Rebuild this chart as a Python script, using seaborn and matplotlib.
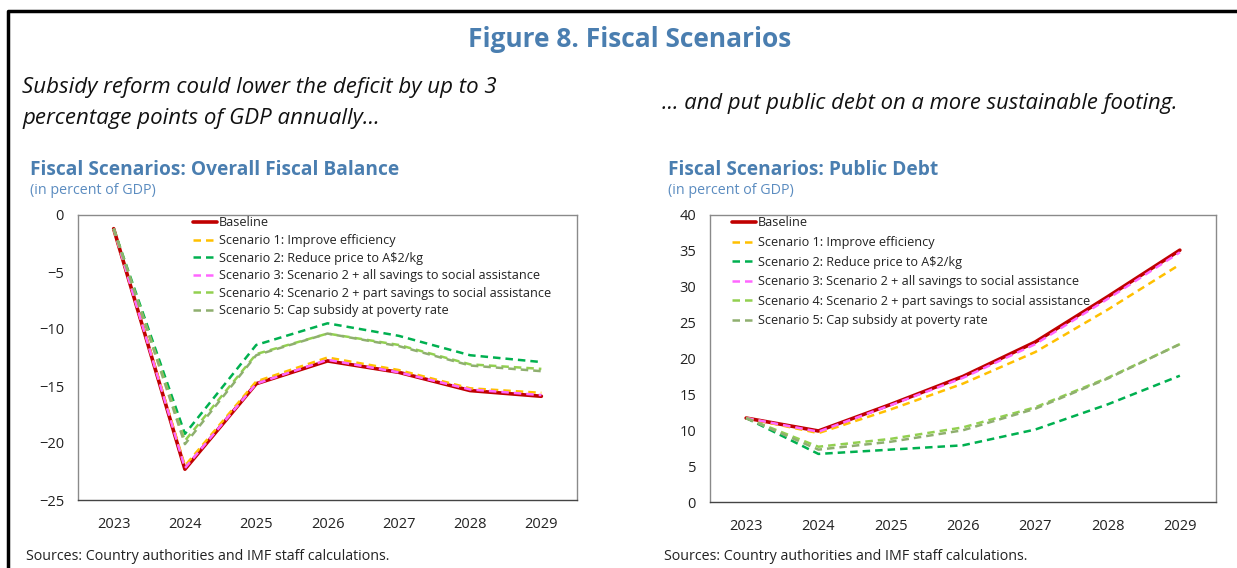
import numpy as np
import pandas as pd
import matplotlib
matplotlib.use("Agg")
import matplotlib.pyplot as plt
import seaborn as sns
from matplotlib.lines import Line2D

# data
years = ["2023", "2024", "2025", "2026", "2027", "2028", "2029"]
scenarios = ["Baseline",
             "Scenario 1: Improve efficiency",
             "Scenario 2: Reduce price to A$2/kg",
             "Scenario 3: Scenario 2 + all savings to social assistance",
             "Scenario 4: Scenario 2 + part savings to social assistance",
             "Scenario 5: Cap subsidy at poverty rate"]

balance_baseline = [-1.2, -22.3, -14.8, -12.8, -13.8, -15.4, -15.9]
balance_s1 = [-1.2, -22.0, -14.6, -12.5, -13.6, -15.2, -15.6]
balance_s2 = [-1.2, -19.2, -11.4, -9.5, -10.6, -12.3, -12.9]
balance_s3 = [-1.2, -22.2, -14.8, -12.7, -13.8, -15.3, -15.8]
balance_s4 = [-1.2, -19.8, -12.2, -10.4, -11.4, -13.1, -13.5]
balance_s5 = [-1.2, -20.1, -12.3, -10.4, -11.5, -13.2, -13.7]

debt_baseline = [11.7, 9.9, 13.6, 17.5, 22.3, 28.6, 35.1]
debt_s1 = [11.7, 9.6, 12.9, 16.5, 20.9, 26.8, 33.1]
debt_s2 = [11.7, 6.7, 7.3, 7.9, 10.1, 13.6, 17.6]
debt_s3 = [11.7, 9.8, 13.5, 17.3, 22.0, 28.3, 34.8]
debt_s4 = [11.7, 7.7, 8.8, 10.4, 13.2, 17.3, 22.0]
debt_s5 = [11.7, 7.3, 8.4, 10.0, 13.0, 17.2, 22.0]

colors = ["#C00000", "#FFC000", "#00B050", "#FF66FF", "#92D050", "#8FAF6F"]
widths = [2.6, 1.8, 1.8, 1.8, 1.8, 1.8]

sns.set_style("white")
plt.rcParams['font.family'] = ['Open Sans', 'DejaVu Sans']

fig = plt.figure(figsize=(12.37, 5.68), dpi=100)

blue = "#4A7EB0"
fig.text(0.509, 0.930, "Figure 8. Fiscal Scenarios", ha="center", va="center",
         fontsize=19, fontweight="bold", color=blue)
fig.text(0.018, 1 - 88 / 568, "Subsidy reform could lower the deficit by up to 3",
         ha="left", va="center", fontsize=16, style="italic", color="#111111")
fig.text(0.018, 1 - 118 / 568, "percentage points of GDP annually...",
         ha="left", va="center", fontsize=16, style="italic", color="#111111")
fig.text(662 / 1237, 1 - 104 / 568, "... and put public debt on a more sustainable footing.",
         ha="left", va="center", fontsize=15.8, style="italic", color="#111111")

# outer frame (top and left edges only)
fig.add_artist(Line2D([8 / 1237, 8 / 1237, 1.0], [0.0, 1 - 11 / 568, 1 - 11 / 568],
                      transform=fig.transFigure, color="black", linewidth=2.5))


def panel(rect, series, title, tx, ylim, yticks, legend_x, lab_spacing):
    ax = fig.add_axes(rect)
    rows = []
    for name, vals in zip(scenarios, series):
        for y, v in zip(years, vals):
            rows.append({"year": y, "value": v, "scenario": name})
    df = pd.DataFrame(rows)
    for i, name in enumerate(scenarios):
        sub = df[df["scenario"] == name]
        sns.lineplot(data=sub, x="year", y="value", ax=ax, color=colors[i],
                     linewidth=widths[i], linestyle="-" if i == 0 else (0, (3, 2)),
                     label=name, sort=False)
    ax.set_xlim(-0.5, 6.5)
    ax.set_ylim(*ylim)
    ax.set_yticks(yticks)
    ax.set_xlabel("")
    ax.set_ylabel("")
    ax.tick_params(axis="y", direction="in", length=5, width=0.8, color="#666666",
                   labelsize=10.5, labelcolor="#222222", pad=10)
    ax.tick_params(axis="x", length=0, labelsize=10.5, labelcolor="#222222", pad=12)
    for s in ax.spines.values():
        s.set_color("#8a8a8a")
        s.set_linewidth(1.0)
    ax.spines["bottom"].set_color("#444444")
    leg = ax.legend(loc="upper left", bbox_to_anchor=(legend_x, 0.995), frameon=False,
                    fontsize=9.1, handlelength=1.9, handletextpad=0.15,
                    labelspacing=lab_spacing, borderpad=0, borderaxespad=0)
    for t in leg.get_texts():
        t.set_color("#222222")
    fig.text(tx / 1237, 1 - 170 / 568, title, ha="left", va="center",
             fontsize=13.8, fontweight="bold", color=blue)
    fig.text(tx / 1237, 1 - 191 / 568, "(in percent of GDP)", ha="left", va="center",
             fontsize=10.3, color="#5B8CC0")
    fig.text((tx - 4) / 1237, 1 - 556 / 568, "Sources: Country authorities and IMF staff calculations.",
             ha="left", va="center", fontsize=10.25, color="#222222")
    return ax


panel([78 / 1237, 1 - 500 / 568, 499 / 1237, 285 / 568],
      [balance_baseline, balance_s1, balance_s2, balance_s3, balance_s4, balance_s5],
      "Fiscal Scenarios: Overall Fiscal Balance", 30, (-25, 0),
      [0, -5, -10, -15, -20, -25], 0.23, 0.36)
panel([710 / 1237, 1 - 502 / 568, 506 / 1237, 287 / 568],
      [debt_baseline, debt_s1, debt_s2, debt_s3, debt_s4, debt_s5],
      "Fiscal Scenarios: Public Debt", 668, (0, 40),
      [0, 5, 10, 15, 20, 25, 30, 35, 40], 0.043, 0.52)

fig.savefig("out.png", dpi=100)
